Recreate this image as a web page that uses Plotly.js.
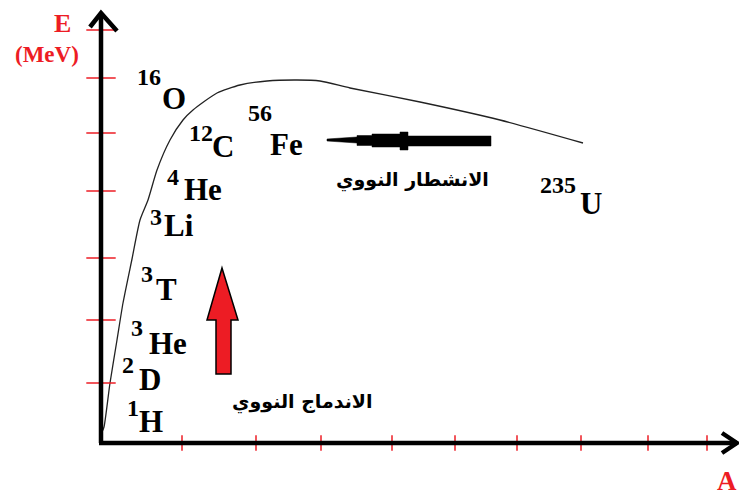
<!DOCTYPE html>
<html>
<head>
<meta charset="utf-8">
<script src="https://cdn.plot.ly/plotly-3.0.1.min.js"></script>
<style>
  html, body { margin: 0; padding: 0; background: #fff; }
  #chart { width: 739px; height: 498px; }
</style>
</head>
<body>
<div id="chart"></div>
<script>
// binding energy curve (A along x, E along y, arbitrary units)
var curveA = [1, 3, 9, 16, 22, 31, 39, 47, 56, 69, 82, 92, 116, 139, 166, 196, 219, 249, 319, 399, 482];
var curveE = [11, 16, 60, 103, 140, 184, 223, 243, 273, 303, 323, 333, 350, 358, 362, 363, 362, 355, 341, 323, 300];

// hand-drawn tick marks
var tickA = [81, 155, 220, 291, 354, 416, 480, 547, 606];
var tickE = [60, 123, 185, 252, 310, 365, 413];

// nuclides
var massNumbers = ['16', '12', '56', '4', '3', '3', '3', '2', '1', '235'];
var symbols = ['O', 'C', 'Fe', 'He', 'Li', 'T', 'He', 'D', 'H', 'U'];

// where each label sits (left edge, middle)
var numPos = [[34, 366], [86, 310], [145, 330], [64, 266], [47, 226], [38, 169], [28, 115], [19, 78], [24, 35], [437, 258]];
var symPos = [[59, 345], [109, 297], [167, 299], [81, 254], [61, 218], [53, 154], [46, 100], [36, 64], [36, 22], [477, 240]];

var red = '#ed1c24';
var serif = 'Liberation Serif, Times New Roman, serif';

var data = [
  {
    x: curveA, y: curveE,
    mode: 'lines',
    line: {color: '#222', width: 1.3, shape: 'spline', smoothing: 0.6},
    hoverinfo: 'none'
  },
  {
    x: tickA, y: tickA.map(function () { return 0; }),
    mode: 'markers',
    marker: {symbol: 'line-ns', size: 11, line: {color: red, width: 1.5}},
    cliponaxis: false,
    hoverinfo: 'none'
  },
  {
    x: tickE.map(function () { return 0; }), y: tickE,
    mode: 'markers',
    marker: {symbol: 'line-ew', size: 21, line: {color: red, width: 1.5}},
    cliponaxis: false,
    hoverinfo: 'none'
  }
];

var annotations = [];
for (var i = 0; i < symbols.length; i++) {
  annotations.push({
    x: numPos[i][0], y: numPos[i][1], xanchor: 'left', yanchor: 'middle',
    text: '<b>' + massNumbers[i] + '</b>', showarrow: false,
    font: {family: serif, size: 24, color: '#000'}
  });
  annotations.push({
    x: symPos[i][0], y: symPos[i][1], xanchor: 'left', yanchor: 'middle',
    text: '<b>' + symbols[i] + '</b>', showarrow: false,
    font: {family: serif, size: 31, color: '#000'}
  });
}

annotations.push(
  {x: -39, y: 420, text: '<b>E</b>', showarrow: false, font: {family: serif, size: 26, color: red}},
  {x: -54, y: 389, text: '<b>(MeV)</b>', showarrow: false, font: {family: serif, size: 23, color: red}},
  {x: 638, y: -55, xanchor: 'right', yanchor: 'bottom', text: '<b>A</b>', showarrow: false,
   font: {family: serif, size: 27, color: red}},
  {x: 311, y: 263, text: '<b>الانشطار النووي</b>', showarrow: false, font: {family: 'DejaVu Sans', size: 19, color: '#000'}},
  {x: 201, y: 41, text: '<b>الاندماج النووي</b>', showarrow: false, font: {family: 'DejaVu Sans', size: 19, color: '#000'}}
);

var shapes = [
  // axes
  {type: 'line', x0: 0, y0: 0, x1: 0, y1: 430, line: {color: '#000', width: 4.5}},
  {type: 'line', x0: -2, y0: 0, x1: 636, y1: 0, line: {color: '#000', width: 4.5}},
  {type: 'path', path: 'M-11,416 L0,430 L16,412', line: {color: '#000', width: 4.5}},
  {type: 'path', path: 'M621,10 L636,0 L621,-10', line: {color: '#000', width: 4.5}},
  // fission arrow
  {type: 'path', fillcolor: '#000', line: {color: '#000', width: 0.5},
   path: 'M226,304 L256,306 L256,307.5 L271,307.5 L271,309 L299,309 L299,311 L307,311 L307,307 L390,307 ' +
         'L390,297 L307,297 L307,293 L299,293 L299,296 L271,296 L271,297.5 L256,297.5 L256,300 L226,302 Z'},
  // fusion arrow
  {type: 'path', fillcolor: red, line: {color: '#000', width: 1.5},
   path: 'M121,175 L137,123 L130,123 L130,69 L115,69 L115,123 L106,123 Z'}
];

var layout = {
  width: 739,
  height: 498,
  margin: {l: 0, r: 0, t: 0, b: 0},
  paper_bgcolor: '#fff',
  plot_bgcolor: '#fff',
  showlegend: false,
  xaxis: {range: [-101, 638], visible: false, fixedrange: true},
  yaxis: {range: [-55, 443], visible: false, fixedrange: true},
  annotations: annotations,
  shapes: shapes
};

Plotly.newPlot('chart', data, layout, {displayModeBar: false, staticPlot: true});
</script>
</body>
</html>
